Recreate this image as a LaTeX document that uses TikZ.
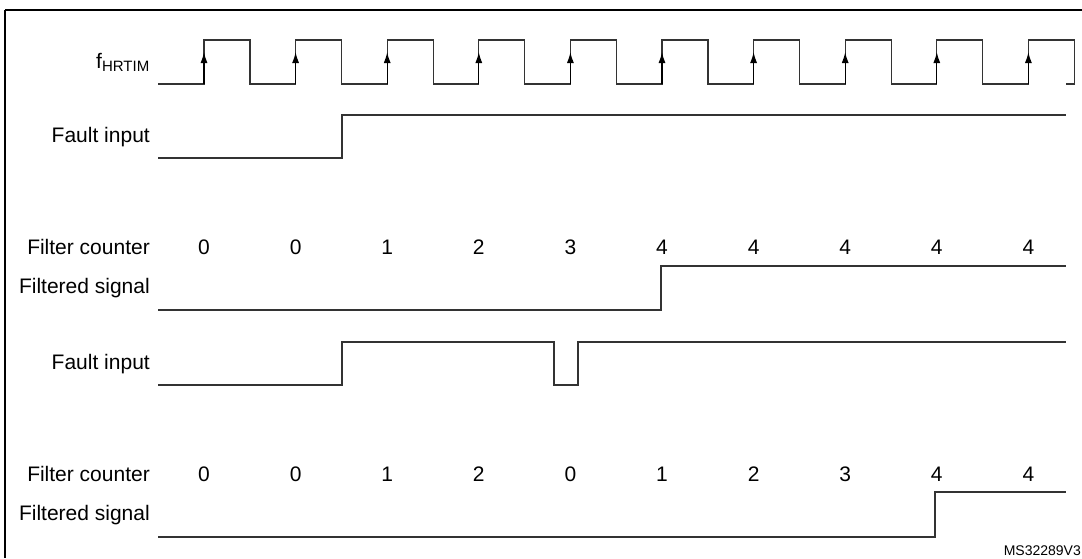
\documentclass[tikz,border=0pt]{standalone}
\usepackage{fontspec}
\setmainfont{Liberation Sans}
\usetikzlibrary{arrows.meta}

\begin{document}
\begin{tikzpicture}[
    x=1pt, y=-1pt,
    every node/.style={font=\fontsize{21}{24}\selectfont},
    row label/.style={anchor=east, inner sep=0pt},
    wave/.style={line width=1.3pt, black!80},
    edge arrow/.style={-{Latex[length=11pt,width=7pt]}, line width=1.3pt}
]
\useasboundingbox (0,0) rectangle (1082,558);
\draw[line width=1.2pt] (5,10) -- (1082,10) (5,10) -- (5,558);

% Clock
\node[row label] (clklabel) at (150,62) {f\textsubscript{\fontsize{15}{16}\selectfont HRTIM}};
\draw[wave] (158,84)
  \foreach \i in {0,...,9} { -- ({204+91.6*\i},84) -- ({204+91.6*\i},40) -- ({250+91.6*\i},40) -- ({250+91.6*\i},84) }
  -- (1066,84);
\foreach \i in {0,...,9}
  \draw[edge arrow] ({204+91.6*\i},84) -- ({204+91.6*\i},52);

% First case
\node[row label] (fault1) at (150,137) {Fault input};
\draw[wave] (158,158) -- (342,158) -- (342,115) -- (1066,115);

\node[row label] (count1) at (150,247) {Filter counter};
\foreach \v [count=\i from 0] in {0,0,1,2,3,4,4,4,4,4}
  \node (c1n\i) at ({204+91.6*\i},247) {\v};

\node[row label] (filt1) at (150,288) {Filtered signal};
\draw[wave] (158,310) -- (661,310) -- (661,266) -- (1066,266);

% Second case
\node[row label] (fault2) at (150,364) {Fault input};
\draw[wave] (158,385) -- (342,385) -- (342,342) -- (554,342) -- (554,385) -- (578,385) -- (578,342) -- (1066,342);

\node[row label] (count2) at (150,474) {Filter counter};
\foreach \v [count=\i from 0] in {0,0,1,2,0,1,2,3,4,4}
  \node (c2n\i) at ({204+91.6*\i},474) {\v};

\node[row label] (filt2) at (150,515) {Filtered signal};
\draw[wave] (158,537) -- (935,537) -- (935,492) -- (1066,492);

\node[anchor=south east, inner sep=1pt, font=\fontsize{14}{15}\selectfont] (ref) at (1082,557) {MS32289V3};
\end{tikzpicture}
\end{document}
